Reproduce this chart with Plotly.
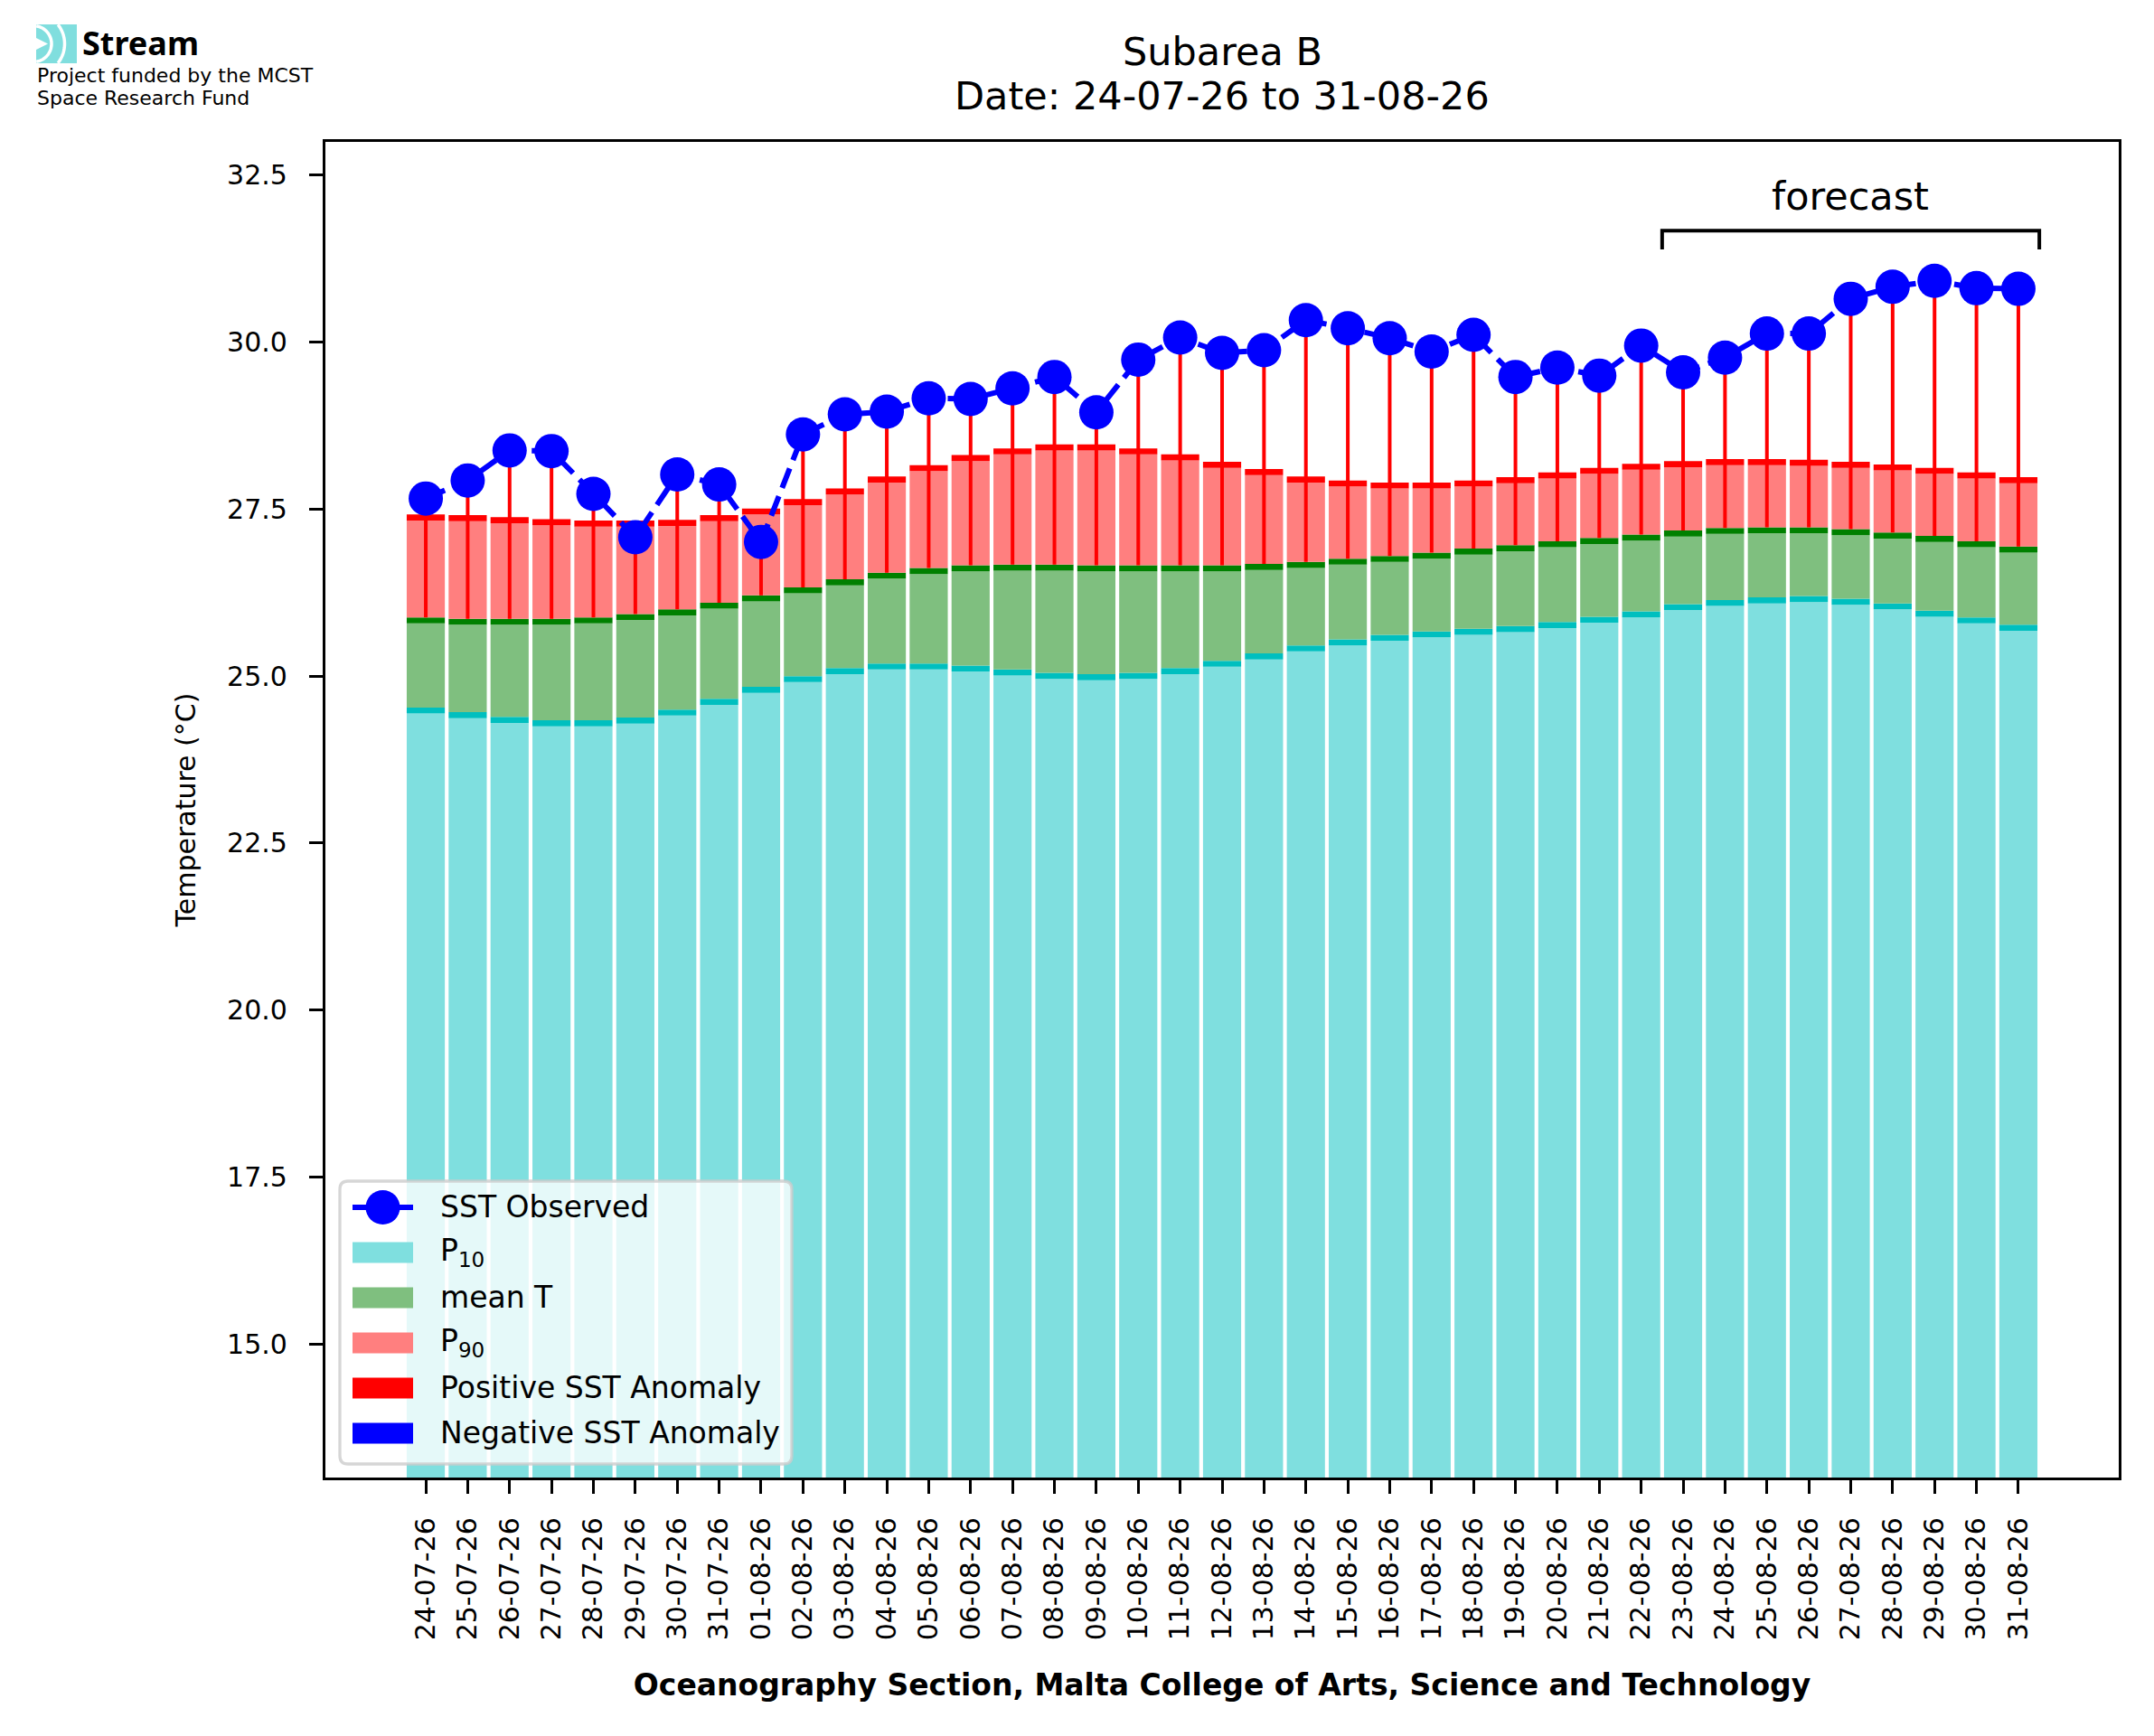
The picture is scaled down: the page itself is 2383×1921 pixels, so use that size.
import numpy as np
import plotly.graph_objects as go

# ---------------- data ----------------
dates = ["24-07-26", "25-07-26", "26-07-26", "27-07-26", "28-07-26", "29-07-26", "30-07-26", "31-07-26",
         "01-08-26", "02-08-26", "03-08-26", "04-08-26", "05-08-26", "06-08-26", "07-08-26", "08-08-26",
         "09-08-26", "10-08-26", "11-08-26", "12-08-26", "13-08-26", "14-08-26", "15-08-26", "16-08-26",
         "17-08-26", "18-08-26", "19-08-26", "20-08-26", "21-08-26", "22-08-26", "23-08-26", "24-08-26",
         "25-08-26", "26-08-26", "27-08-26", "28-08-26", "29-08-26", "30-08-26", "31-08-26"]

sst_observed = [27.66, 27.93, 28.38, 28.37, 27.73, 27.08, 28.02, 27.87, 27.01, 28.62,
                28.92, 28.96, 29.16, 29.15, 29.31, 29.48, 28.95, 29.74, 30.07, 29.84,
                29.88, 30.33, 30.21, 30.06, 29.86, 30.11, 29.48, 29.62, 29.50, 29.95,
                29.55, 29.77, 30.13, 30.13, 30.65, 30.83, 30.92, 30.81, 30.80]

p90 = [27.42, 27.41, 27.38, 27.35, 27.33, 27.33, 27.34, 27.41, 27.51, 27.65,
       27.81, 27.99, 28.16, 28.31, 28.41, 28.47, 28.47, 28.41, 28.32, 28.21,
       28.10, 27.99, 27.93, 27.90, 27.90, 27.93, 27.98, 28.05, 28.12, 28.18,
       28.22, 28.25, 28.25, 28.24, 28.21, 28.17, 28.12, 28.05, 27.98]

mean_t = [25.88, 25.86, 25.86, 25.86, 25.88, 25.93, 26.00, 26.10, 26.21, 26.33,
          26.45, 26.55, 26.62, 26.66, 26.67, 26.67, 26.66, 26.66, 26.66, 26.66,
          26.68, 26.71, 26.76, 26.80, 26.85, 26.91, 26.96, 27.02, 27.07, 27.12,
          27.18, 27.22, 27.23, 27.23, 27.20, 27.15, 27.10, 27.02, 26.94]

p10 = [24.53, 24.46, 24.39, 24.34, 24.34, 24.38, 24.50, 24.66, 24.84, 25.00,
       25.12, 25.19, 25.19, 25.16, 25.10, 25.05, 25.03, 25.05, 25.12, 25.23,
       25.34, 25.46, 25.55, 25.62, 25.67, 25.71, 25.75, 25.81, 25.89, 25.97,
       26.08, 26.14, 26.18, 26.20, 26.16, 26.09, 25.98, 25.88, 25.77]

forecast_start = "23-08-26"
y_ticks = [15.0, 17.5, 20.0, 22.5, 25.0, 27.5, 30.0, 32.5]
title_lines = ["Subarea B", "Date: 24-07-26 to 31-08-26"]
legend_labels = ["SST Observed", "P<sub>10</sub>", "mean T", "P<sub>90</sub>",
                 "Positive SST Anomaly", "Negative SST Anomaly"]

# ---------------- style ----------------
W, H = 2383, 1921
PL, PR, PT, PB = 360, 2344, 157, 1635
FONT = "DejaVu Sans"
C_P10, C_P10E = "#7FDFDF", "#00BFBF"
C_MEAN, C_MEANE = "#7FBF7F", "#008000"
C_P90, C_P90E = "#FF7F7F", "#FF0000"
BAND = 0.09
BW = 0.91
TICK_FS = 30

n = len(dates)
x = list(range(n))

def pxx(v):
    return (v - PL) / (PR - PL)

def pyy(v):
    return (PB - v) / (PB - PT)

def P(a, b):
    return f"{pxx(a):.5f},{pyy(b):.5f}"

fig = go.Figure()

def add_bar(y, base, color):
    fig.add_trace(go.Bar(x=x, y=y, base=base, width=BW, marker=dict(color=color, line=dict(width=0)),
                         showlegend=False, hoverinfo="skip"))

p10_a = np.array(p10); mean_a = np.array(mean_t); p90_a = np.array(p90); sst_a = np.array(sst_observed)
add_bar(list(p10_a - BAND), [0] * n, C_P10)
add_bar([BAND] * n, list(p10_a - BAND), C_P10E)
add_bar(list(mean_a - p10_a - BAND), list(p10_a), C_MEAN)
add_bar([BAND] * n, list(mean_a - BAND), C_MEANE)
add_bar(list(p90_a - mean_a - BAND), list(mean_a), C_P90)
add_bar([BAND] * n, list(p90_a - BAND), C_P90E)

pos_anom = list(np.clip(sst_a - mean_a, 0, None))
neg_anom = list(np.clip(mean_a - sst_a, 0, None))
fig.add_trace(go.Scatter(x=x, y=mean_t, mode="markers",
                         marker=dict(size=1, color="rgba(0,0,0,0)"),
                         error_y=dict(type="data", symmetric=False, array=pos_anom,
                                      arrayminus=[0] * n, color="red", thickness=4, width=0),
                         showlegend=False, hoverinfo="skip"))
fig.add_trace(go.Scatter(x=x, y=mean_t, mode="markers",
                         marker=dict(size=1, color="rgba(0,0,0,0)"),
                         error_y=dict(type="data", symmetric=False, array=[0] * n,
                                      arrayminus=neg_anom, color="blue", thickness=4, width=0),
                         showlegend=False, hoverinfo="skip"))
fig.add_trace(go.Scatter(x=x, y=sst_observed, mode="lines+markers",
                         line=dict(color="blue", width=6, dash="23px,10px"),
                         marker=dict(size=38, color="blue", line=dict(width=0)),
                         showlegend=False, hoverinfo="skip"))

shapes = []
annotations = []

# forecast bracket
fs = dates.index(forecast_start)
bx0, bx1 = fs - 0.5, n - 1 + 0.5
by = max(sst_observed) + 0.75
shapes.append(dict(type="path", xref="x", yref="y",
                   path=f"M {bx0},{by - 0.28} L {bx0},{by} L {bx1},{by} L {bx1},{by - 0.28}",
                   line=dict(color="black", width=4)))
annotations.append(dict(x=(bx0 + bx1) / 2, y=by + 0.52, xref="x", yref="y", text="forecast",
                        showarrow=False, font=dict(family=FONT, size=43, color="black"),
                        xanchor="center", yanchor="middle"))

# title
annotations.append(dict(x=0.5, y=pyy(57), xref="paper", yref="paper", text=title_lines[0],
                        showarrow=False, font=dict(family=FONT, size=43, color="black"),
                        xanchor="center", yanchor="middle"))
annotations.append(dict(x=0.5, y=pyy(106), xref="paper", yref="paper", text=title_lines[1],
                        showarrow=False, font=dict(family=FONT, size=43, color="black"),
                        xanchor="center", yanchor="middle"))

# logo
shapes.append(dict(type="rect", xref="paper", yref="paper", x0=pxx(40), x1=pxx(85),
                   y0=pyy(70), y1=pyy(27), fillcolor="#80DEDE", line=dict(width=0), layer="above"))
for r in (20.0, 34.5):
    th = np.linspace(-np.pi / 2, np.pi / 2, 60)
    xs = 37 + r * np.cos(th)
    ys = 48.5 + r * np.sin(th)
    keep = (xs >= 40) & (ys >= 27) & (ys <= 70)
    pts = [P(a, b) for a, b in zip(xs[keep], ys[keep])]
    shapes.append(dict(type="path", xref="paper", yref="paper", path="M " + " L ".join(pts),
                       line=dict(color="white", width=3.5), layer="above"))
shapes.append(dict(type="path", xref="paper", yref="paper",
                   path=f"M {P(40, 42)} L {P(53, 48.5)} L {P(40, 55)} Z",
                   fillcolor="white", line=dict(width=0), layer="above"))
annotations.append(dict(x=pxx(89), y=pyy(48), xref="paper", yref="paper", text="<b>Stream</b>",
                        showarrow=False, font=dict(family="Noto Sans", size=36, color="black"),
                        xanchor="left", yanchor="middle"))
annotations.append(dict(x=pxx(39), y=pyy(83.5), xref="paper", yref="paper",
                        text="Project funded by the MCST", showarrow=False,
                        font=dict(family=FONT, size=22, color="black"), xanchor="left", yanchor="middle"))
annotations.append(dict(x=pxx(39), y=pyy(108.5), xref="paper", yref="paper",
                        text="Space Research Fund", showarrow=False,
                        font=dict(family=FONT, size=22, color="black"), xanchor="left", yanchor="middle"))

# legend (drawn by hand to match the swatch sizes)
lx0, lx1, ly0, ly1, rr = 376, 876, 1307, 1620, 9
box = (f"M {P(lx0 + rr, ly0)} L {P(lx1 - rr, ly0)} Q {P(lx1, ly0)} {P(lx1, ly0 + rr)} "
       f"L {P(lx1, ly1 - rr)} Q {P(lx1, ly1)} {P(lx1 - rr, ly1)} L {P(lx0 + rr, ly1)} "
       f"Q {P(lx0, ly1)} {P(lx0, ly1 - rr)} L {P(lx0, ly0 + rr)} Q {P(lx0, ly0)} {P(lx0 + rr, ly0)} Z")
shapes.append(dict(type="path", xref="paper", yref="paper", path=box,
                   fillcolor="rgba(255,255,255,0.8)", line=dict(color="rgba(204,204,204,0.8)", width=3.3),
                   layer="above"))
rows = [1336, 1386, 1436, 1486, 1536, 1586]
sw_colors = [None, C_P10, C_MEAN, C_P90, "#FF0000", "#0000FF"]
for i, (ry, lab) in enumerate(zip(rows, legend_labels)):
    if i == 0:
        shapes.append(dict(type="line", xref="paper", yref="paper", x0=pxx(390), x1=pxx(457),
                           y0=pyy(ry), y1=pyy(ry), line=dict(color="blue", width=6), layer="above"))
        shapes.append(dict(type="circle", xref="paper", yref="paper", x0=pxx(404.5), x1=pxx(442.5),
                           y0=pyy(ry + 19), y1=pyy(ry - 19), fillcolor="blue", line=dict(width=0),
                           layer="above"))
    else:
        shapes.append(dict(type="rect", xref="paper", yref="paper", x0=pxx(390), x1=pxx(457),
                           y0=pyy(ry + 11.5), y1=pyy(ry - 11.5), fillcolor=sw_colors[i],
                           line=dict(width=0), layer="above"))
    annotations.append(dict(x=pxx(485), y=pyy(ry - 1), xref="paper", yref="paper", text=lab,
                            showarrow=False, font=dict(family=FONT, size=33, color="black"),
                            xanchor="left", yanchor="middle"))

fig.update_layout(
    width=W, height=H,
    margin=dict(l=PL, r=W - PR, t=PT, b=H - PB, pad=0, autoexpand=False),
    paper_bgcolor="white", plot_bgcolor="white",
    barmode="overlay", showlegend=False,
    font=dict(family=FONT, size=33, color="black"),
    shapes=shapes, annotations=annotations,
    xaxis=dict(range=[-2.395, 40.395], tickmode="array", tickvals=x, ticktext=dates, tickangle=-90,
               ticks="outside", ticklen=15, tickwidth=3.3, tickcolor="black",
               showline=True, linewidth=3.3, linecolor="black", mirror=True,
               showgrid=False, zeroline=False, automargin=False, ticklabelstandoff=14,
               tickfont=dict(family=FONT, size=TICK_FS, color="black"),
               title=dict(text="<b>Oceanography Section, Malta College of Arts, Science and Technology</b>",
                          font=dict(family=FONT, size=33, color="black"), standoff=39)),
    yaxis=dict(range=[13, 33], tickmode="array", tickvals=y_ticks,
               ticktext=[f"{v:.1f}" for v in y_ticks],
               ticks="outside", ticklen=15, tickwidth=3.3, tickcolor="black",
               showline=True, linewidth=3.3, linecolor="black", mirror=True,
               showgrid=False, zeroline=False, automargin=False, ticklabelstandoff=18,
               tickfont=dict(family=FONT, size=TICK_FS, color="black"),
               title=dict(text="Temperature (°C)", font=dict(family=FONT, size=30, color="black"),
                          standoff=26)),
)

fig.write_html("out.html", include_plotlyjs=True, full_html=True,
               config={"displayModeBar": False},
               post_script="document.body.style.margin='0';document.body.style.overflow='hidden';")
